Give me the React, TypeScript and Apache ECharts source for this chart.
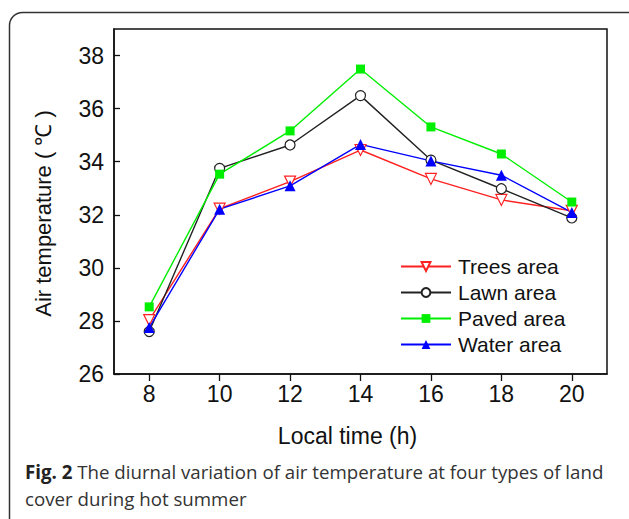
import React, { useEffect, useRef } from "react";
import * as echarts from "echarts";

const hours = [8, 10, 12, 14, 16, 18, 20];
const treesArea = [28.03, 32.23, 33.25, 34.44, 33.35, 32.56, 32.15];
const lawnArea = [27.6, 33.75, 34.63, 36.49, 34.06, 32.98, 31.88];
const pavedArea = [28.53, 33.53, 35.16, 37.49, 35.31, 34.29, 32.48];
const waterArea = [27.75, 32.21, 33.09, 34.65, 34.03, 33.49, 32.09];
const seriesNames = ["Trees area", "Lawn area", "Paved area", "Water area"];
const captionBold = "Fig. 2";
const captionLine1 = " The diurnal variation of air temperature at four types of land";
const captionLine2 = "cover during hot summer";

const pair = (ys: number[]) => hours.map((h, i) => [h, ys[i]]);

export default function App() {
  const ref = useRef<HTMLDivElement>(null);
  useEffect(() => {
    if (!ref.current) return;
    const chart = echarts.init(ref.current, undefined, { renderer: "svg" });
    const font = "'Liberation Sans', Arial, sans-serif";
    const mk = (
      name: string,
      data: number[],
      color: string,
      symbol: string,
      size: number,
      hollow: boolean
    ) => ({
      name,
      type: "line",
      data: pair(data),
      symbol,
      symbolSize: size,
      showAllSymbol: true,
      lineStyle: { color, width: 1.4 },
      itemStyle: hollow
        ? { color: "#ffffff", borderColor: color, borderWidth: 1.2 }
        : { color, borderColor: color, borderWidth: 0 },
      emphasis: { disabled: true },
    });
    chart.setOption({
      animation: false,
      backgroundColor: "#ffffff",
      grid: {
        left: 114,
        top: 29,
        right: 22,
        bottom: 145,
        show: true,
        borderColor: "#111",
        borderWidth: 1.5,
        backgroundColor: "transparent",
      },
      xAxis: {
        type: "value",
        min: 7,
        max: 21,
        interval: 1,
        name: "Local time (h)",
        nameLocation: "middle",
        nameGap: 50,
        nameTextStyle: {
          fontFamily: font,
          fontSize: 23,
          color: "#111",
          padding: [0, 26, 0, 0],
        },
        axisLine: { show: true, lineStyle: { color: "#111", width: 1.5 } },
        axisTick: {
          show: true,
          length: 7,
          inside: false,
          lineStyle: { color: "#111", width: 1.3 },
          customValues: hours,
        },
        axisLabel: {
          fontFamily: font,
          fontSize: 23,
          color: "#111",
          margin: 8,
          customValues: hours,
        },
        splitLine: { show: false },
      },
      yAxis: {
        type: "value",
        min: 26,
        max: 39,
        interval: 2,
        name: "Air temperature ( \u2103 )",
        nameLocation: "middle",
        nameGap: 60,
        nameTextStyle: {
          fontFamily: font,
          fontSize: 22,
          color: "#111",
          padding: [0, 24, 0, 0],
        },
        axisLine: { show: true, lineStyle: { color: "#111", width: 1.5 } },
        axisTick: {
          show: true,
          length: 6,
          inside: true,
          lineStyle: { color: "#111", width: 1.3 },
        },
        axisLabel: {
          fontFamily: font,
          fontSize: 23,
          color: "#111",
          margin: 10,
          showMaxLabel: false,
        },
        splitLine: { show: false },
      },
      legend: {
        orient: "vertical",
        left: 395,
        top: 251,
        itemWidth: 50,
        itemHeight: 11,
        itemGap: 5,
        textStyle: { fontFamily: font, fontSize: 21, color: "#111", padding: [0, 0, 0, 2] },
        data: seriesNames,
      },
      series: [
        mk(seriesNames[0], treesArea, "#ff2020", "path://M0,0L10,0L5,9Z", 11, true),
        mk(seriesNames[1], lawnArea, "#222222", "circle", 10, true),
        mk(seriesNames[2], pavedArea, "#00ee00", "rect", 9, false),
        mk(seriesNames[3], waterArea, "#0000ff", "triangle", 11, false),
      ],
      graphic: [
        {
          type: "rect",
          shape: { x: 9.5, y: 12.5, width: 640, height: 540, r: 13 },
          style: { fill: "none", stroke: "#333", lineWidth: 1.5 },
          silent: true,
        },
        {
          type: "text",
          left: 25,
          top: 462,
          style: {
            text: "{b|" + captionBold + "}{n|" + captionLine1 + "}",
            rich: {
              b: { fontFamily: "Open Sans", fontWeight: "bold", fontSize: 18.7, fill: "#222" },
              n: { fontFamily: "Open Sans", fontSize: 18.7, fill: "#333" },
            },
          },
        },
        {
          type: "text",
          left: 25,
          top: 489,
          style: {
            text: captionLine2,
            fontFamily: "Open Sans",
            fontSize: 18.7,
            fill: "#333",
          },
        },
      ],
    });
    return () => chart.dispose();
  }, []);
  return (
    <div
      ref={ref}
      style={{ position: "absolute", left: 0, top: 0, width: 629, height: 519 }}
    />
  );
}
